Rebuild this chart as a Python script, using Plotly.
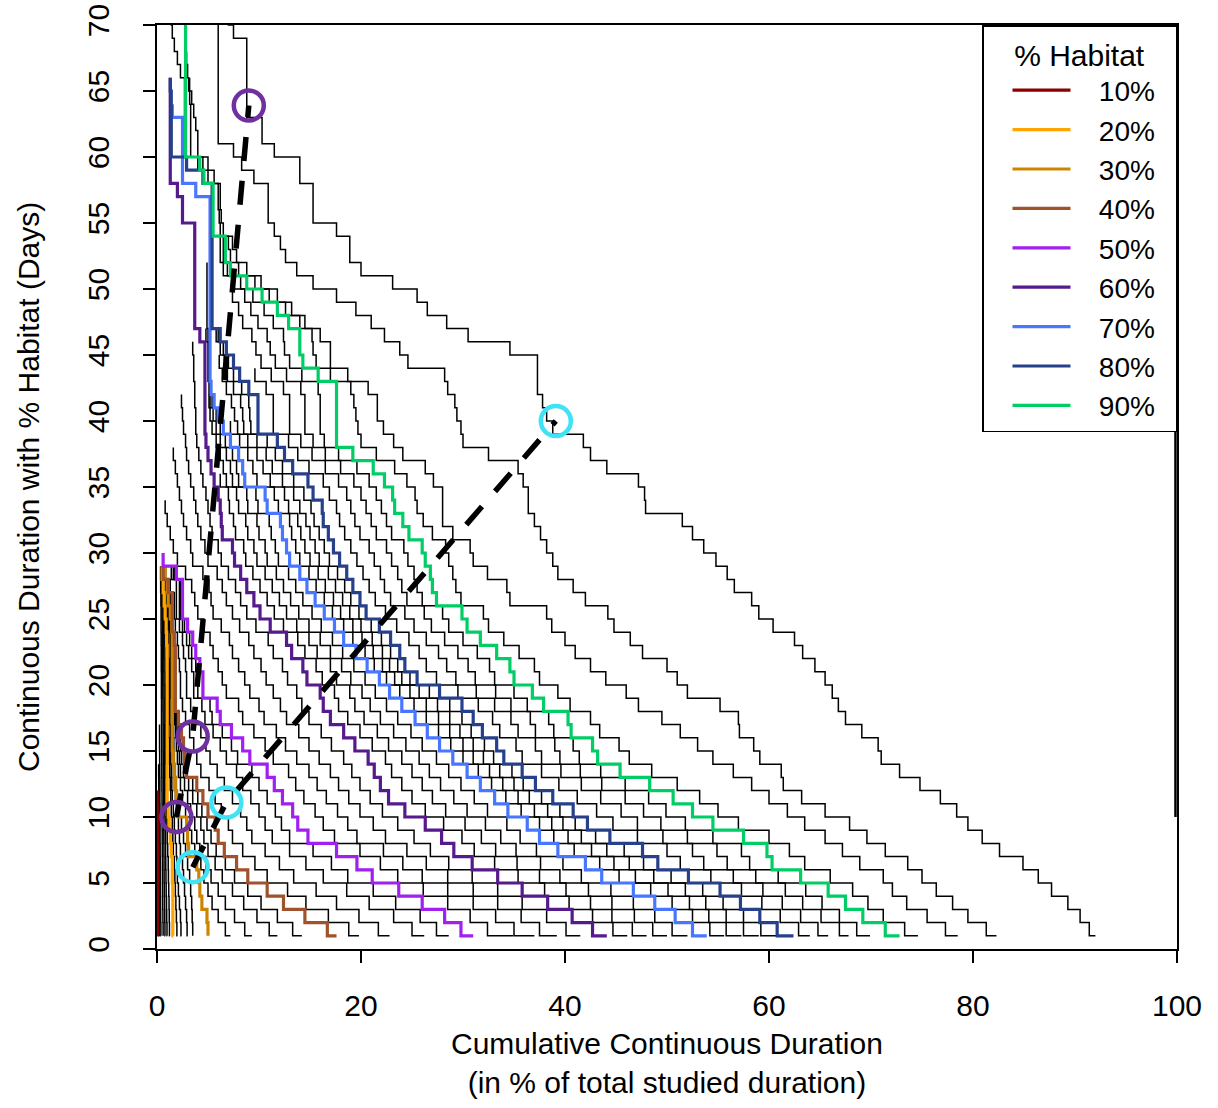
import plotly.graph_objects as go

FONT = "Liberation Sans, Arial, Helvetica, sans-serif"

# ---- axes ----
x_tick_vals = [0, 20, 40, 60, 80, 100]
y_tick_vals = [0, 5, 10, 15, 20, 25, 30, 35, 40, 45, 50, 55, 60, 65, 70]

# ---- highlighted habitat thresholds (legend) ----
habitat_labels = ["10%", "20%", "30%", "40%", "50%", "60%", "70%", "80%", "90%"]
habitat_colors = ["#8B0000", "#FFA500", "#CD8500", "#A0522D", "#A020F0",
                  "#551A8B", "#4876FF", "#27408B", "#00CD66"]

# Each list: cumulative continuous duration (% of studied time) for day 1, 2, 3, ...
c10 = [0.06, 0.06, 0.05, 0.05, 0.05, 0.05, 0.04, 0.04, 0.04, 0.04, 0.03, 0.03]
c20 = [1.6, 1.55, 1.55, 1.55, 1.55, 1.5, 1.5, 1.4, 1.3, 1.2,
       1.1, 1.0, 1.0, 1.0, 1.0, 1.0, 1.0, 1.0, 1.0, 1.0,
       1.0, 1.0, 1.0, 0.95, 0.9, 0.8, 0.7, 0.6, 0.5]
c30 = [5.0, 5.0, 4.9, 4.4, 4.2, 4.1, 3.9, 3.1, 3.0, 2.9,
       2.1, 1.9, 1.8, 1.7, 1.6, 1.5, 1.5, 1.5, 1.5, 1.5,
       1.5, 1.5, 1.5, 1.5, 1.45, 1.3, 1.1, 1.0, 0.8]
c40 = [17.6, 16.7, 14.5, 12.4, 10.8, 8.9, 7.8, 6.6, 6.0, 5.7,
       5.0, 4.5, 3.9, 2.9, 2.7, 2.6, 2.4, 2.1, 1.8, 1.8,
       1.8, 1.8, 1.8, 1.7, 1.5, 1.5, 1.5, 1.1, 0.6]
c50 = [31.0, 29.8, 28.2, 26.0, 23.7, 21.1, 19.6, 17.6, 14.8, 13.8,
       13.3, 12.3, 11.5, 10.8, 9.1, 8.4, 7.3, 6.2, 5.9, 4.5,
       4.5, 4.2, 3.8, 3.5, 3.0, 2.5, 2.5, 2.5, 1.9, 0.6]
c60 = [44.1, 42.7, 40.7, 38.3, 35.8, 33.4, 30.9, 29.1, 27.9, 26.3,
       24.3, 22.7, 21.9, 21.3, 20.7, 19.4, 18.3, 17.0, 16.3, 16.0,
       14.7, 14.3, 13.2, 12.7, 11.1, 10.1, 9.5, 8.8, 8.2, 7.6,
       7.4, 6.4, 6.3, 6.2, 6.0, 5.6, 5.3, 5.0, 4.8, 4.7,
       4.7, 4.7, 4.7, 4.7, 4.7, 4.7, 4.2, 3.7, 3.7, 3.7,
       3.7, 3.7, 3.7, 3.7, 3.7, 2.5, 2.5, 2.0, 1.3, 1.3,
       1.3, 1.3, 1.3, 1.3, 1.3, 1.3]
c70 = [53.9, 52.5, 50.8, 48.8, 46.7, 43.6, 42.0, 39.3, 37.5, 36.3,
       34.4, 33.1, 31.7, 30.4, 29.0, 27.7, 26.5, 25.3, 24.0, 22.8,
       21.8, 20.6, 19.5, 18.3, 17.4, 16.4, 15.5, 14.7, 14.0, 13.0,
       12.7, 12.3, 12.1, 10.8, 10.6, 8.6, 8.4, 8.0, 7.2, 6.5,
       6.0, 5.6, 5.3, 5.2, 5.2, 5.2, 5.2, 5.2, 5.2, 5.2,
       5.2, 5.2, 5.2, 5.2, 5.2, 5.2, 5.2, 3.8, 2.5, 2.5,
       2.5, 2.5, 2.5, 1.5]
c80 = [62.4, 60.8, 59.1, 57.2, 55.2, 52.1, 49.1, 47.6, 44.4, 42.2,
       40.8, 38.8, 37.1, 35.8, 34.0, 33.3, 31.9, 31.0, 29.9, 27.7,
       25.5, 24.3, 23.8, 22.9, 21.8, 20.5, 19.9, 19.2, 18.6, 17.9,
       17.3, 16.8, 16.3, 16.2, 15.3, 14.8, 13.3, 12.5, 11.8, 9.9,
       9.9, 9.9, 9.0, 8.1, 7.5, 6.8, 6.2, 5.4, 5.4, 5.4,
       5.4, 5.4, 5.4, 5.4, 5.4, 5.4, 5.4, 5.4, 4.5, 2.9,
       1.4, 1.4, 1.4, 1.4, 1.4, 1.3]
c90 = [72.8, 71.4, 69.2, 67.5, 65.8, 63.1, 60.3, 59.8, 57.5, 54.5,
       52.5, 50.6, 48.3, 45.4, 43.2, 42.7, 40.6, 40.3, 37.9, 36.8,
       35.0, 34.6, 33.3, 31.7, 30.4, 29.9, 27.4, 27.0, 26.8, 26.3,
       26.0, 24.7, 24.1, 23.3, 23.1, 22.3, 21.2, 19.2, 17.6, 17.6,
       17.6, 17.6, 17.6, 15.8, 14.3, 14.0, 14.0, 12.9, 11.8, 10.3,
       8.8, 7.2, 6.7, 6.7, 5.5, 5.5, 5.5, 5.5, 4.6, 4.2,
       2.8, 2.8, 2.8, 2.8, 2.8, 2.8, 2.8, 2.8, 2.8, 2.8,
       2.8, 2.8]

# ---- other thresholds (black) ----
b02 = [0.12, 0.11, 0.1, 0.1, 0.09, 0.09, 0.08, 0.08]
b04 = [0.18, 0.17, 0.16, 0.15, 0.15, 0.14, 0.14, 0.13, 0.13, 0.12, 0.12]
b06 = [0.25, 0.24, 0.23, 0.22, 0.21, 0.2, 0.2, 0.19, 0.19, 0.18, 0.18, 0.17, 0.17, 0.16]
b08 = [0.4, 0.38, 0.36, 0.35, 0.34, 0.33, 0.32, 0.31, 0.3, 0.3, 0.29, 0.28, 0.28, 0.27, 0.26, 0.25, 0.25]
b12 = [0.6, 0.6, 0.58, 0.56, 0.55, 0.54, 0.53, 0.52, 0.51, 0.5,
       0.5, 0.49, 0.48, 0.47, 0.46, 0.45, 0.45, 0.44, 0.44, 0.43,
       0.43, 0.42, 0.42, 0.41, 0.4, 0.4, 0.38, 0.36, 0.35]
b14 = [0.8, 0.78, 0.76, 0.74, 0.72, 0.7, 0.69, 0.68, 0.67, 0.66,
       0.65, 0.64, 0.63, 0.62, 0.61, 0.6, 0.6, 0.59, 0.58, 0.57,
       0.56, 0.55, 0.55, 0.54, 0.53, 0.5, 0.48, 0.45, 0.42]
b16 = [1.0, 0.98, 0.95, 0.93, 0.9, 0.88, 0.86, 0.84, 0.82, 0.8,
       0.78, 0.76, 0.75, 0.74, 0.73, 0.72, 0.71, 0.7, 0.7, 0.69,
       0.68, 0.67, 0.66, 0.65, 0.64, 0.6, 0.56, 0.52, 0.48]
b18 = [1.25, 1.22, 1.2, 1.18, 1.15, 1.12, 1.1, 1.05, 1.0, 0.97,
       0.95, 0.92, 0.9, 0.88, 0.86, 0.85, 0.84, 0.83, 0.82, 0.81,
       0.8, 0.79, 0.78, 0.77, 0.76, 0.7, 0.65, 0.6, 0.55]
b22 = [2.0, 1.95, 1.9, 1.85, 1.8, 1.75, 1.7, 1.6, 1.55, 1.5,
       1.4, 1.35, 1.3, 1.25, 1.2, 1.2, 1.15, 1.15, 1.1, 1.1,
       1.1, 1.1, 1.05, 1.05, 1.0, 0.95, 0.9, 0.8, 0.7]
b24 = [2.4, 2.35, 2.3, 2.2, 2.1, 2.0, 1.95, 1.9, 1.8, 1.7,
       1.6, 1.5, 1.45, 1.4, 1.35, 1.3, 1.3, 1.25, 1.25, 1.2,
       1.2, 1.2, 1.15, 1.15, 1.1, 1.0, 0.95, 0.85, 0.75]
b26 = [3.0, 2.95, 2.9, 2.8, 2.7, 2.6, 2.5, 2.3, 2.2, 2.1,
       1.9, 1.8, 1.7, 1.6, 1.55, 1.5, 1.45, 1.4, 1.4, 1.35,
       1.35, 1.3, 1.3, 1.3, 1.25, 1.15, 1.05, 0.95, 0.8]
b28 = [3.5, 3.5, 3.45, 3.4, 3.3, 3.2, 3.0, 2.8, 2.6, 2.4,
       2.2, 2.0, 1.9, 1.8, 1.7, 1.65, 1.6, 1.55, 1.5, 1.5,
       1.45, 1.45, 1.4, 1.4, 1.35, 1.2, 1.1, 1.0, 0.85]
b32 = [7.2, 6.7, 6.0, 5.4, 5.0, 4.6, 4.3, 3.7, 3.4, 3.2,
       2.8, 2.5, 2.3, 2.1, 2.0, 1.9, 1.8, 1.7, 1.65, 1.6,
       1.55, 1.55, 1.5, 1.5, 1.45, 1.25, 1.15, 0.9, 0.7]
b34 = [9.3, 8.6, 7.6, 6.7, 6.0, 5.3, 4.8, 4.2, 3.9, 3.7,
       3.3, 3.0, 2.7, 2.3, 2.2, 2.1, 1.95, 1.8, 1.7, 1.65,
       1.6, 1.6, 1.55, 1.5, 1.45, 1.3, 1.2, 0.9, 0.65]
b36 = [11.8, 11.0, 9.8, 8.5, 7.4, 6.4, 5.7, 5.0, 4.6, 4.3,
       3.9, 3.5, 3.1, 2.6, 2.4, 2.3, 2.1, 1.9, 1.75, 1.7,
       1.65, 1.65, 1.6, 1.55, 1.45, 1.35, 1.3, 0.95, 0.6]
b38 = [14.2, 13.3, 11.8, 10.2, 8.9, 7.6, 6.7, 5.8, 5.3, 4.9,
       4.4, 4.0, 3.5, 2.8, 2.6, 2.5, 2.3, 2.0, 1.8, 1.75,
       1.7, 1.7, 1.7, 1.6, 1.45, 1.4, 1.35, 1.0, 0.6]
b42 = [19.8, 18.8, 16.8, 14.6, 12.8, 10.8, 9.6, 8.4, 7.4, 7.0,
       6.3, 5.7, 5.1, 4.3, 3.9, 3.6, 3.2, 2.8, 2.5, 2.3,
       2.3, 2.2, 2.1, 2.0, 1.8, 1.7, 1.7, 1.3, 0.6]
b44 = [22.8, 21.7, 19.8, 17.6, 15.6, 13.4, 12.0, 10.6, 9.3, 8.8,
       8.2, 7.4, 6.6, 5.9, 5.2, 4.8, 4.3, 3.6, 3.3, 2.9,
       2.9, 2.8, 2.6, 2.5, 2.2, 1.9, 1.9, 1.9, 1.4, 0.6]
b46 = [26.2, 25.0, 23.2, 20.8, 18.6, 16.3, 14.6, 13.0, 11.3, 10.6,
       10.0, 9.2, 8.4, 7.8, 6.8, 6.2, 5.5, 4.7, 4.4, 3.6,
       3.6, 3.4, 3.1, 2.9, 2.5, 2.2, 2.2, 2.2, 1.6, 0.6]
b48 = [28.6, 27.4, 25.8, 23.4, 21.2, 18.7, 17.1, 15.3, 13.0, 12.2,
       11.6, 10.8, 10.0, 9.3, 7.9, 7.3, 6.4, 5.4, 5.2, 4.0,
       4.0, 3.8, 3.4, 3.2, 2.7, 2.3, 2.3, 2.3, 1.7, 0.6]
b52 = [34.9, 32.4, 30.7, 28.5, 26.1, 23.6, 21.9, 19.9, 17.4, 16.3,
       15.5, 14.4, 13.6, 12.9, 11.4, 10.6, 9.5, 8.4, 8.0, 6.8,
       6.4, 6.0, 5.5, 5.2, 4.6, 4.0, 3.7, 3.4, 2.8, 2.0,
       1.6, 1.3, 1.0, 0.8]
b54 = [37.0, 35.0, 33.2, 31.0, 28.5, 26.0, 24.1, 22.2, 19.6, 18.7,
       17.7, 16.6, 15.7, 14.9, 13.7, 12.6, 11.7, 10.5, 10.0, 9.1,
       8.6, 8.0, 7.4, 7.1, 6.3, 5.5, 5.3, 5.1, 4.5, 3.5,
       3.3, 2.9, 2.6, 2.4, 2.2, 2.0, 1.8, 1.6]
b56 = [39.2, 37.5, 35.7, 33.4, 31.0, 28.5, 26.4, 24.5, 22.4, 21.2,
       19.9, 18.8, 17.8, 17.0, 15.9, 14.9, 13.9, 12.7, 12.1, 11.4,
       10.7, 10.2, 9.5, 9.0, 8.1, 7.4, 6.8, 6.4, 5.9, 5.0,
       4.7, 4.3, 4.0, 3.8, 3.6, 3.3, 3.1, 2.9, 2.8, 2.6,
       2.5, 2.4]
b58 = [41.5, 40.1, 38.2, 35.8, 33.4, 30.9, 28.6, 26.8, 25.2, 23.6,
       22.1, 20.9, 19.9, 19.1, 18.3, 17.1, 16.1, 14.9, 14.2, 13.7,
       12.8, 12.3, 11.4, 10.9, 9.7, 8.8, 8.2, 7.7, 7.0, 6.3,
       6.0, 5.4, 5.2, 5.0, 4.8, 4.5, 4.3, 4.1, 3.9, 3.8,
       3.8, 3.7, 3.7, 3.6, 3.6, 3.5]
b62 = [46.1, 44.7, 42.7, 40.4, 38.0, 35.4, 33.1, 31.1, 29.9, 28.1,
       26.3, 25.0, 24.0, 23.0, 22.4, 21.1, 19.9, 18.7, 17.8, 17.4,
       16.2, 15.6, 14.5, 13.8, 12.4, 11.5, 10.8, 10.1, 9.4, 8.7,
       8.5, 7.7, 7.5, 7.1, 7.0, 6.2]
b64 = [48.0, 46.6, 44.6, 42.5, 40.1, 37.5, 35.3, 33.2, 31.8, 30.2,
       28.3, 27.0, 26.0, 25.0, 24.0, 22.7, 21.6, 20.3, 19.4, 18.9,
       17.6, 17.0, 15.7, 14.9, 13.7, 12.7, 12.0, 11.3, 10.6, 9.8,
       9.5, 8.9, 8.7, 8.0, 7.8, 6.8, 6.5, 6.2, 5.8, 5.4,
       5.2, 5.1]
b66 = [50.0, 48.6, 46.8, 44.6, 42.3, 39.5, 37.6, 35.2, 33.7, 32.2,
       30.4, 29.1, 27.8, 26.7, 25.7, 24.4, 23.2, 21.9, 20.9, 20.1,
       19.0, 18.1, 17.0, 16.0, 14.9, 13.9, 13.1, 12.4, 11.7, 10.8,
       10.6, 10.0, 9.8, 8.9, 8.8, 7.4, 7.2, 6.8, 6.2, 5.8,
       5.5, 5.2, 5.1, 5.0, 5.0, 5.0, 4.8]
b68 = [52.0, 50.5, 48.8, 46.7, 44.5, 41.6, 39.8, 37.2, 35.6, 34.3,
       32.4, 31.1, 29.8, 28.6, 27.4, 26.0, 24.9, 23.6, 22.5, 21.4,
       20.4, 19.3, 18.2, 17.2, 16.1, 15.2, 14.3, 13.6, 12.9, 11.9,
       11.6, 11.2, 11.0, 9.9, 9.7, 8.0, 7.8, 7.4, 6.7, 6.2,
       5.8, 5.4, 5.2, 5.1, 5.1, 5.1, 5.0, 4.9, 4.9, 4.9,
       4.9, 4.9]
b72 = [55.6, 54.2, 52.5, 50.5, 48.4, 45.3, 43.4, 40.9, 38.9, 37.5,
       35.7, 34.2, 32.8, 31.5, 30.0, 28.8, 27.6, 26.4, 25.2, 23.8,
       22.5, 21.3, 20.4, 19.2, 18.3, 17.2, 16.4, 15.6, 14.9, 14.0,
       13.6, 13.2, 13.0, 11.9, 11.5, 9.8, 9.4, 8.9, 8.1, 7.2]
b74 = [57.3, 55.8, 54.1, 52.2, 50.1, 46.9, 44.8, 42.6, 40.3, 38.7,
       37.0, 35.4, 33.9, 32.6, 31.0, 30.0, 28.7, 27.6, 26.4, 24.8,
       23.3, 22.1, 21.2, 20.1, 19.2, 18.0, 17.3, 16.5, 15.8, 15.0,
       14.5, 14.1, 13.8, 12.9, 12.5, 11.1, 10.4, 9.8, 8.9, 7.9,
       7.6, 7.3, 6.8, 6.4, 6.1]
b76 = [59.0, 57.5, 55.8, 53.8, 51.8, 48.7, 46.3, 44.1, 41.6, 39.8,
       38.3, 36.5, 35.0, 33.6, 32.0, 31.0, 29.7, 28.7, 27.5, 25.7,
       24.0, 22.8, 22.1, 21.1, 20.0, 18.9, 18.2, 17.5, 16.8, 15.9,
       15.5, 15.0, 14.6, 14.0, 13.4, 12.3, 11.3, 10.7, 9.8, 8.5,
       8.4, 8.2, 7.5, 6.9, 6.6, 6.2, 5.8, 5.3, 5.3, 5.3]
b78 = [60.7, 59.2, 57.5, 55.5, 53.5, 50.4, 47.7, 45.8, 43.0, 41.0,
       39.5, 37.7, 35.9, 34.8, 33.0, 32.1, 30.8, 29.9, 28.7, 26.7,
       24.8, 23.6, 22.9, 22.0, 21.0, 19.8, 19.0, 18.4, 17.7, 16.9,
       16.4, 15.9, 15.4, 15.1, 14.4, 13.4, 12.3, 11.6, 10.8, 9.2,
       9.1, 9.0, 8.3, 7.5, 7.0, 6.5, 6.0, 5.4, 5.4, 5.4,
       5.4, 5.4, 5.4, 5.4, 5.4, 5.4]
b82 = [64.0, 62.9, 61.1, 59.3, 57.3, 54.3, 51.3, 50.0, 47.1, 44.7,
       43.1, 41.2, 39.4, 37.7, 35.8, 35.2, 33.6, 32.9, 31.5, 29.5,
       27.4, 26.4, 25.7, 24.7, 23.5, 22.4, 21.4, 20.8, 20.2, 19.6,
       19.0, 18.4, 17.9, 17.6, 16.9, 16.3, 14.9, 13.8, 12.9, 11.4,
       11.4, 11.4, 10.7, 9.6]
b84 = [65.8, 64.8, 63.1, 61.3, 59.4, 56.5, 53.6, 52.5, 49.6, 47.1,
       45.5, 43.5, 41.6, 39.6, 37.7, 37.1, 35.4, 34.7, 33.1, 31.3,
       29.3, 28.4, 27.6, 26.4, 25.2, 24.3, 22.9, 22.3, 21.9, 21.3,
       20.8, 19.9, 19.4, 19.0, 18.6, 17.8, 16.5, 15.2, 14.1, 13.0,
       13.0, 13.0, 12.4, 11.2, 10.2, 9.7, 9.3, 8.4, 8.0, 7.4]
b86 = [67.8, 66.9, 65.1, 63.3, 61.6, 58.7, 55.9, 54.9, 52.0, 49.4,
       47.7, 45.9, 43.6, 41.5, 39.5, 39.0, 37.1, 36.6, 34.7, 33.2,
       31.2, 30.5, 29.5, 28.2, 26.9, 26.2, 24.5, 24.0, 23.6, 23.0,
       22.5, 21.5, 21.0, 20.5, 20.0, 19.3, 18.0, 16.5, 15.3, 14.5,
       14.5, 14.5, 14.1, 12.7, 11.6, 11.1, 10.8, 9.9, 9.2, 8.6,
       7.5, 6.5, 6.2, 6.2, 5.5, 5.5, 5.5, 5.5]
b88 = [69.9, 68.6, 66.9, 65.2, 63.6, 60.9, 58.1, 57.3, 54.5, 51.8,
       49.9, 48.2, 45.9, 43.5, 41.4, 40.8, 38.9, 38.4, 36.3, 35.0,
       33.1, 32.6, 31.4, 30.0, 28.6, 28.0, 26.0, 25.5, 25.2, 24.6,
       24.2, 23.0, 22.5, 22.0, 21.5, 20.8, 19.6, 17.8, 16.4, 16.0,
       16.0, 16.0, 15.8, 14.2, 13.0, 12.5, 12.4, 11.4, 10.5, 9.4,
       8.2, 6.9, 6.5, 6.5, 5.5, 5.5, 5.5, 5.5, 4.6, 4.0,
       2.7, 2.7, 2.7, 2.7, 2.7, 2.7, 2.3, 2.0, 1.7, 1.5,
       1.4, 1.3]
b92 = [74.6, 73.3, 71.2, 69.7, 68.2, 66.0, 63.5, 62.0, 60.0, 57.0,
       55.0, 53.2, 51.0, 48.5, 46.3, 45.3, 43.4, 42.5, 40.5, 39.3,
       37.5, 37.0, 35.5, 34.0, 32.5, 32.0, 29.8, 29.3, 29.0, 28.6,
       28.3, 27.0, 26.1, 25.5, 25.3, 24.5, 23.3, 21.5, 20.0, 19.7,
       19.5, 19.3, 19.0, 17.0, 15.6, 15.3, 15.2, 14.0, 12.6, 11.0,
       9.6, 8.0, 7.2, 7.0, 6.2, 6.1, 6.0, 6.0, 5.0, 4.5,
       3.3, 3.3, 3.3, 3.3, 3.2, 3.1, 3.0, 2.9]
b94 = [78.5, 77.3, 75.5, 73.5, 72.1, 71.2, 68.9, 67.2, 65.5, 63.5,
       61.8, 60.0, 58.3, 56.5, 54.5, 53.0, 51.3, 49.5, 47.2, 46.0,
       44.0, 42.5, 41.0, 40.0, 38.7, 38.2, 34.6, 34.3, 32.4, 31.0,
       30.7, 29.0, 28.0, 28.0, 28.0, 27.1, 26.3, 24.1, 23.2, 22.2,
       21.6, 21.6, 20.7, 18.7, 17.0, 17.0, 16.0, 14.5, 13.2, 11.8,
       10.2, 8.8, 7.8, 7.4, 6.5, 6.3, 6.2, 6.2, 5.6, 5.0,
       4.0, 4.0, 3.8, 3.6, 3.4, 3.2]
b96 = [82.3, 81.3, 79.5, 78.0, 76.4, 75.0, 73.6, 71.4, 69.6, 67.9,
       65.5, 63.2, 61.4, 61.2, 59.1, 58.5, 57.1, 57.0, 55.2, 52.0,
       51.0, 50.0, 47.6, 46.4, 44.8, 44.2, 42.0, 40.8, 39.3, 38.8,
       38.2, 37.6, 37.0, 36.4, 36.4, 35.9, 35.4, 32.5, 30.0, 29.8,
       29.4, 29.2, 28.5, 28.2, 24.6, 23.8, 22.3, 21.0, 19.5, 17.6,
       15.3, 13.7, 12.6, 12.1, 11.5, 10.9, 10.9, 10.9, 9.5, 8.3,
       7.5, 6.0, 6.0, 6.0, 6.0, 6.0, 6.0, 6.0, 6.0, 6.0,
       6.0]
b98 = [92.0, 91.4, 90.5, 89.3, 87.7, 86.4, 84.9, 82.6, 80.9, 79.5,
       78.4, 76.8, 74.8, 72.8, 71.0, 70.7, 69.1, 67.5, 66.8, 66.2,
       65.5, 64.5, 63.3, 62.5, 60.4, 59.0, 58.3, 56.6, 55.9, 54.8,
       53.6, 52.5, 51.5, 47.9, 47.8, 47.2, 44.1, 42.5, 41.8, 38.8,
       38.2, 37.8, 37.3, 37.3, 37.3, 34.6, 30.5, 28.4, 26.5, 25.5,
       23.1, 20.0, 18.9, 18.9, 17.6, 15.3, 15.3, 15.3, 14.0, 14.0,
       11.5, 10.3, 10.3, 8.8, 8.8, 8.8, 8.8, 8.8, 8.8, 7.5,
       7.0, 6.5]
# 100 % habitat: vertical segment at the right edge
h100_x = [99.85, 99.85]
h100_y = [10, 70]

# ---- highlighted points (circles) and the dashed links ----
purple_x = [1.9, 3.5, 9.0]
purple_y = [10.0, 16.1, 63.9]
cyan_x = [3.5, 6.8, 39.1]
cyan_y = [6.2, 11.1, 40.0]

black_curves = [b02, b04, b06, b08, b12, b14, b16, b18, b22, b24, b26, b28,
                b32, b34, b36, b38, b42, b44, b46, b48, b52, b54, b56, b58,
                b62, b64, b66, b68, b72, b74, b76, b78, b82, b84, b86, b88,
                b92, b94, b96, b98]
colored_curves = [c10, c20, c30, c40, c50, c60, c70, c80, c90]

fig = go.Figure()

for curve in black_curves:
    fig.add_trace(go.Scatter(
        x=curve, y=list(range(1, len(curve) + 1)), mode="lines",
        line=dict(color="black", width=1.5, shape="hv"),
        showlegend=False, hoverinfo="skip"))

fig.add_trace(go.Scatter(
    x=h100_x, y=h100_y, mode="lines",
    line=dict(color="black", width=2.5),
    showlegend=False, hoverinfo="skip"))

NB = "\u00a0"
for curve, lab, col in zip(colored_curves, habitat_labels, habitat_colors):
    fig.add_trace(go.Scatter(
        x=curve, y=list(range(1, len(curve) + 1)), mode="lines",
        name=NB * 3 + lab + NB * 2,
        line=dict(color=col, width=3.2, shape="hv"),
        showlegend=True))

for px, py, col in [(purple_x, purple_y, "#7030A0"), (cyan_x, cyan_y, "#3FE3F5")]:
    fig.add_trace(go.Scatter(
        x=px, y=py, mode="lines",
        line=dict(color="black", width=5.5, dash="24px,20px"),
        showlegend=False, hoverinfo="skip"))
    fig.add_trace(go.Scatter(
        x=px, y=py, mode="markers",
        marker=dict(symbol="circle-open", size=30, color=col,
                    line=dict(width=4.5, color=col)),
        showlegend=False, hoverinfo="skip"))

axis_common = dict(
    showgrid=False, zeroline=False, showline=True, linecolor="black",
    linewidth=1.5, mirror=True, ticks="outside", ticklen=12, tickwidth=1.5,
    tickcolor="black", tickfont=dict(family=FONT, size=30, color="black"),
    automargin=False, ticklabeloverflow="allow",
)

fig.update_xaxes(range=[0, 100], tickmode="array", tickvals=x_tick_vals,
                 ticktext=[str(v) for v in x_tick_vals], ticklabelstandoff=17,
                 **axis_common)
fig.update_yaxes(range=[0, 70], tickmode="array", tickvals=y_tick_vals,
                 ticktext=[str(v) for v in y_tick_vals], tickangle=-90,
                 ticklabelstandoff=22, **axis_common)

fig.update_layout(
    width=1218, height=1108,
    margin=dict(l=157, r=41, t=25, b=159, pad=0, autoexpand=False),
    paper_bgcolor="white", plot_bgcolor="white",
    font=dict(family=FONT, size=30, color="black"),
    legend=dict(
        x=1, xanchor="right", y=1, yanchor="top",
        bgcolor="white", bordercolor="black", borderwidth=1.5,
        font=dict(family=FONT, size=28, color="black"),
        title=dict(text="% Habitat", side="top center",
                   font=dict(family=FONT, size=30, color="black")),
        itemwidth=58, tracegroupgap=0, indentation=24,
    ),
    annotations=[
        dict(text="Cumulative Continuous Duration<br>(in % of total studied duration)",
             x=0.5, xref="paper", y=0, yref="paper", xanchor="center",
             yanchor="top", yshift=-76, showarrow=False,
             font=dict(family=FONT, size=30, color="black")),
        dict(text="Continuous Duration with % Habitat (Days)",
             x=0, xref="paper", y=0.5, yref="paper", xanchor="center",
             yanchor="middle", xshift=-129, textangle=-90, showarrow=False,
             font=dict(family=FONT, size=30, color="black")),
    ],
)

# remove the browser's default 8px page margin so the figure fills the window
fig.write_html("out.html",
               config={"displayModeBar": False},
               post_script="document.body.style.margin='0px';"
                           "document.body.style.overflow='hidden';")
